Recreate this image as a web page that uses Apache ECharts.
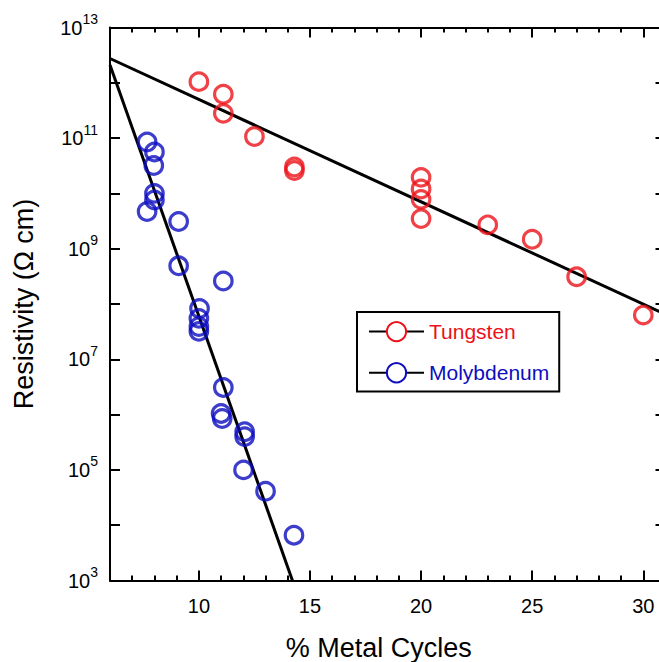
<!DOCTYPE html>
<html><head><meta charset="utf-8">
<script src="https://cdn.jsdelivr.net/npm/echarts@6/dist/echarts.min.js"></script>
<style>html,body{margin:0;padding:0;background:#fff}#c{width:659px;height:662px}</style>
</head><body><div id="c"></div>
<script>
// Data
const tungstenX = [10, 11.1, 11.1, 12.5, 14.3, 14.3, 20, 20, 20, 20, 23, 25, 27, 30];
const tungstenY = [1.05e12, 6.2e11, 2.8e11, 1.07e11, 2.6e10, 3.0e10, 1.95e10, 1.2e10, 7.8e9, 3.5e9, 2.7e9, 1.48e9, 3.1e8, 6.3e7];
const molyX = [7.67, 8.0, 7.97, 8.0, 8.0, 7.67, 9.09, 9.09, 11.1, 10.03, 10.0, 10.0, 10.0, 11.1, 11.0, 11.05, 12.06, 12.06, 12.01, 13.0, 14.28];
const molyY = [8.5e10, 5.6e10, 3.2e10, 1.0e10, 7.6e9, 4.7e9, 3.1e9, 4.9e8, 2.6e8, 8.3e7, 5.5e7, 3.9e7, 3.2e7, 3.1e6, 1.05e6, 8.5e5, 4.9e5, 4.0e5, 1.0e5, 4.1e4, 6.6e3];
const tungstenFitX = [6, 31];
const tungstenFitY = [2.75e12, 6.5e7];
const molyFitX = [6, 14.21];
const molyFitY = [2.09e12, 1e3];
const xMajorTicks = [10, 15, 20, 25, 30];
const yLabelExponents = [3, 5, 7, 9, 11, 13];
const categories = ['Tungsten', 'Molybdenum'];

const RED = '#ec1118';
const BLUE = '#0d0dbf';
const FONT = '"Liberation Sans", Arial, Helvetica, sans-serif';

const pairs = (xs, ys) => xs.map((x, i) => [x, ys[i]]);

const chart = echarts.init(document.getElementById('c'), null, { renderer: 'svg' });

const blackLine = { show: true, onZero: false, lineStyle: { color: '#000', width: 2 } };
const clearLine = { show: true, onZero: false, lineStyle: { color: 'rgba(0,0,0,0)', width: 1 } };
const tickStyle = { color: '#000', width: 2 };

function xAx(pos, line, tick, extra) {
  return Object.assign({
    type: 'value', position: pos, min: 6, max: 31,
    splitLine: { show: false },
    axisLine: line,
    axisTick: tick,
    axisLabel: { show: false }
  }, extra || {});
}
function yAx(pos, line, tick, extra) {
  return Object.assign({
    type: 'log', logBase: 10, min: 1e3, max: 1e13, splitNumber: 10, position: pos,
    splitLine: { show: false },
    axisLine: line,
    axisTick: tick,
    axisLabel: { show: false }
  }, extra || {});
}
const majorTick = { show: true, inside: true, length: 10, lineStyle: tickStyle, customValues: xMajorTicks };
const minorTick = { show: true, inside: true, length: 5, lineStyle: tickStyle };
const yTick = { show: true, inside: true, length: 10, lineStyle: tickStyle };

const option = {
  animation: false,
  grid: { left: 110, right: -6.5, top: 27.5, bottom: 81.5, containLabel: false, outerBoundsMode: 'none' },
  legend: {
    orient: 'vertical', left: 357, top: 312,
    padding: [9, 10, 8, 11],
    itemWidth: 55, itemHeight: 24, itemGap: 20, itemTextGap: 7,
    borderColor: '#000', borderWidth: 2,
    selectedMode: false,
    textStyle: { fontSize: 21, fontFamily: FONT },
    data: [
      { name: categories[0], textStyle: { color: RED } },
      { name: categories[1], textStyle: { color: BLUE } }
    ]
  },
  xAxis: [
    xAx('bottom', blackLine, majorTick, {
      name: '% Metal Cycles', nameLocation: 'middle', nameGap: 54,
      nameTextStyle: { fontSize: 27, fontFamily: FONT, color: '#000', padding: [0, 18, 0, 0] },
      axisLabel: { show: true, customValues: xMajorTicks, margin: 15, fontSize: 20, fontFamily: FONT, color: '#000' }
    }),
    xAx('bottom', clearLine, minorTick, { interval: 1 }),
    xAx('top', blackLine, majorTick),
    xAx('top', clearLine, minorTick, { interval: 1 })
  ],
  yAxis: [
    yAx('left', blackLine, yTick, {
      name: 'Resistivity (\u03A9 cm)', nameLocation: 'middle', nameGap: 73, nameRotate: 90,
      nameTextStyle: { fontSize: 27, fontFamily: FONT, color: '#000' },
      axisLabel: {
        show: true, margin: 12, color: '#000', fontFamily: FONT,
        formatter: function (v) {
          const e = Math.round(Math.log10(v));
          if (yLabelExponents.indexOf(e) < 0) return '';
          return '{b|10}{s|' + e + '}';
        },
        rich: {
          b: { fontSize: 20, fontFamily: FONT, color: '#000' },
          s: { fontSize: 14, fontFamily: FONT, color: '#000', padding: [0, 0, 17, 0] }
        }
      }
    }),
    yAx('right', blackLine, yTick)
  ],
  series: [
    {
      name: categories[0], type: 'line', data: pairs(tungstenFitX, tungstenFitY),
      symbol: 'emptyCircle', showSymbol: false, silent: true,
      itemStyle: { color: RED },
      lineStyle: { color: '#000', width: 3 }, z: 2
    },
    {
      name: categories[1], type: 'line', data: pairs(molyFitX, molyFitY),
      symbol: 'emptyCircle', showSymbol: false, silent: true,
      itemStyle: { color: BLUE },
      lineStyle: { color: '#000', width: 3 }, z: 2
    },
    {
      name: 'Tungsten data', type: 'scatter', data: pairs(tungstenX, tungstenY),
      symbol: 'circle', symbolSize: 17.5,
      itemStyle: { color: 'rgba(255,255,255,0)', borderColor: RED, borderWidth: 3.2 }, z: 3
    },
    {
      name: 'Molybdenum data', type: 'scatter', data: pairs(molyX, molyY),
      symbol: 'circle', symbolSize: 17.5,
      itemStyle: { color: 'rgba(255,255,255,0)', borderColor: BLUE, borderWidth: 3.2 }, z: 3
    }
  ]
};
chart.setOption(option);
</script>
</body></html>
